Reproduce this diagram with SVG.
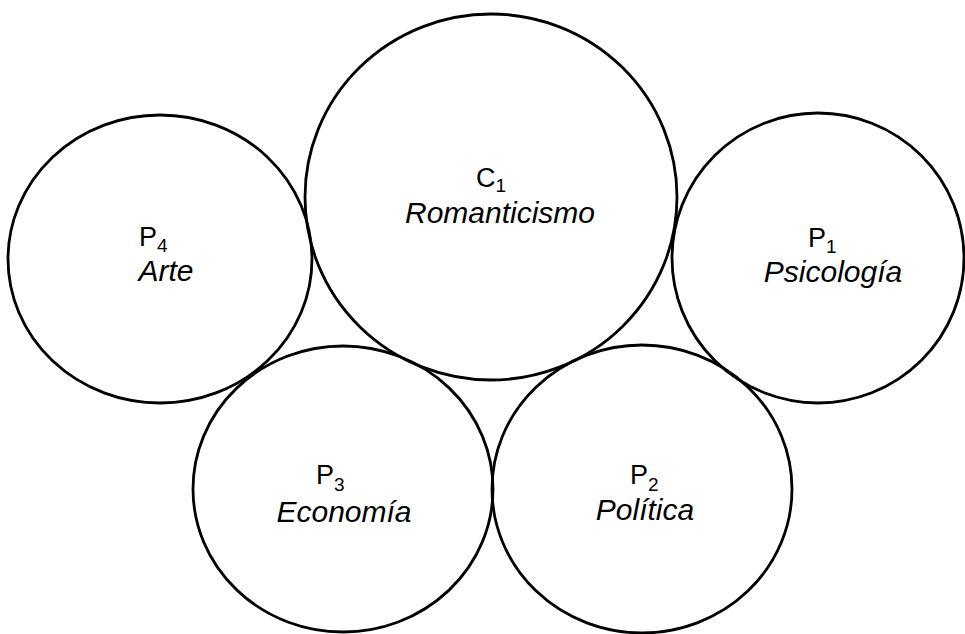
<svg xmlns="http://www.w3.org/2000/svg" width="965" height="634" viewBox="0 0 965 634">
<style>
.c{fill:none;stroke:#000;stroke-width:2.8}
.l{font-family:"Liberation Sans",Arial,sans-serif;font-size:27px;fill:#000}
.s{font-size:19px}
.n{font-family:"Liberation Sans",Arial,sans-serif;font-size:30px;font-style:italic;fill:#000;text-anchor:middle}
</style>
<rect width="965" height="634" fill="#fff"/>
<g id="C1">
<ellipse class="c" cx="491" cy="197" rx="186" ry="183"/>
<text class="l" x="476" y="187">C<tspan class="s" dy="5">1</tspan></text>
<text class="n" x="500" y="223">Romanticismo</text>
</g>
<g id="P4">
<ellipse class="c" cx="160" cy="259" rx="152" ry="144"/>
<text class="l" x="139" y="246">P<tspan class="s" dy="6">4</tspan></text>
<text class="n" x="166" y="281">Arte</text>
</g>
<g id="P1">
<ellipse class="c" cx="818" cy="258" rx="146" ry="145"/>
<text class="l" x="808" y="247">P<tspan class="s" dy="6">1</tspan></text>
<text class="n" x="833" y="282">Psicología</text>
</g>
<g id="P3">
<ellipse class="c" cx="343" cy="489" rx="150" ry="143"/>
<text class="l" x="316" y="484">P<tspan class="s" dy="7">3</tspan></text>
<text class="n" x="344" y="522">Economía</text>
</g>
<g id="P2">
<ellipse class="c" cx="642" cy="489" rx="150" ry="144"/>
<text class="l" x="630" y="484">P<tspan class="s" dy="7">2</tspan></text>
<text class="n" x="645" y="520">Política</text>
</g>
<g id="connectors"/>
</svg>
